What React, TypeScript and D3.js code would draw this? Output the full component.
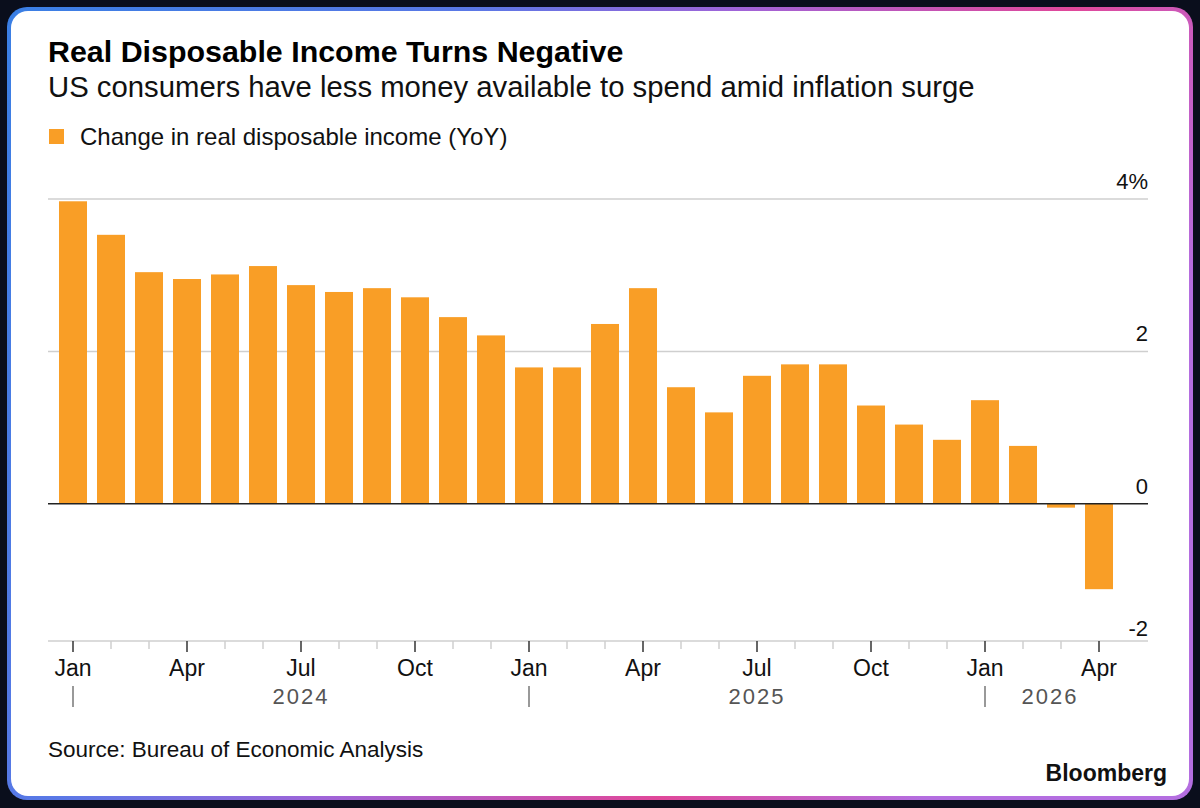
import React from 'react';
import * as d3 from 'd3';

// monthly change in real disposable income, % YoY
const months = [
  'Jan 2024', 'Feb 2024', 'Mar 2024', 'Apr 2024', 'May 2024', 'Jun 2024',
  'Jul 2024', 'Aug 2024', 'Sep 2024', 'Oct 2024', 'Nov 2024', 'Dec 2024',
  'Jan 2025', 'Feb 2025', 'Mar 2025', 'Apr 2025', 'May 2025', 'Jun 2025',
  'Jul 2025', 'Aug 2025', 'Sep 2025', 'Oct 2025', 'Nov 2025', 'Dec 2025',
  'Jan 2026', 'Feb 2026', 'Mar 2026', 'Apr 2026',
];
const values = [
  3.97, 3.53, 3.04, 2.95, 3.01, 3.12, 2.87, 2.78, 2.83, 2.71, 2.45, 2.21,
  1.79, 1.79, 2.36, 2.83, 1.53, 1.2, 1.68, 1.83, 1.83, 1.29, 1.04, 0.84,
  1.36, 0.76, -0.05, -1.12,
];
const yTicks = [4, 2, 0];
const yTickLabels = ['4%', '2', '0'];
const bottomLabel = '-2';
const labelMonths = ['Jan', 'Apr', 'Jul', 'Oct'];
const years = ['2024', '2025', '2026'];

const BAR = '#f99e26';
const FONT = '"Liberation Sans", Arial, sans-serif';

export default function App() {
  const width = 1200;
  const height = 808;
  const left = 48;
  const right = 1148;
  const top = 199;
  const bottom = 641;

  const x = d3.scaleBand<string>()
    .domain(months)
    .range([54, 1118])
    .paddingInner(0.263)
    .paddingOuter(0.1315);
  const y = d3.scaleLinear().domain([-1.8, 4]).range([bottom, top]);
  const cx = (m: string) => (x(m) ?? 0) + x.bandwidth() / 2;

  const data = months.map((m, i) => ({ m, v: values[i] }));

  // year label placement: July for full years, centre of the bars otherwise
  const yearPos = years.map((yr) => {
    const ms = months.filter((m) => m.endsWith(yr));
    const jul = ms.find((m) => m.startsWith('Jul'));
    if (jul) return cx(jul);
    return (cx(ms[0]) + cx(ms[ms.length - 1])) / 2 + 8;
  });

  return (
    <svg width={width} height={height} style={{ position: 'absolute', left: 0, top: 0 }} fontFamily={FONT}>
      <defs>
        <linearGradient id="frame" x1="0" y1="0" x2="1" y2="0.35">
          <stop offset="0" stopColor="#3a7fe4" />
          <stop offset="0.35" stopColor="#5a78e6" />
          <stop offset="0.55" stopColor="#a064d8" />
          <stop offset="0.8" stopColor="#e0489a" />
          <stop offset="1" stopColor="#b46ee0" />
        </linearGradient>
      </defs>
      <rect x={0} y={0} width={width} height={height} fill="#0a0e1c" />
      <rect x={7} y={7} width={1186} height={793} rx={20} fill="url(#frame)" />
      <rect x={11} y={11} width={1178} height={785} rx={17} fill="#ffffff" />

      <text x={left} y={62} fontSize={30.4} fontWeight="bold" fill="#000">
        Real Disposable Income Turns Negative
      </text>
      <text x={left} y={97} fontSize={29.3} fill="#111">
        US consumers have less money available to spend amid inflation surge
      </text>

      <rect x={49} y={129} width={15} height={15} fill={BAR} />
      <text x={80} y={145} fontSize={24} fill="#111">
        Change in real disposable income (YoY)
      </text>

      {/* grid */}
      {yTicks.map((t, i) => (
        <g key={t}>
          {t !== 0 && (
            <line x1={left} x2={right} y1={y(t)} y2={y(t)} stroke="#cfcfcf" strokeWidth={1.5} />
          )}
          <text x={right} y={y(t) - 10} fontSize={22} textAnchor="end" fill="#111">
            {yTickLabels[i]}
          </text>
        </g>
      ))}
      <text x={right} y={bottom - 5} fontSize={22} textAnchor="end" fill="#111">
        {bottomLabel}
      </text>

      {/* bars */}
      {data.map((d) => (
        <rect
          key={d.m}
          x={x(d.m)}
          width={x.bandwidth()}
          y={y(Math.max(0, d.v))}
          height={Math.abs(y(d.v) - y(0))}
          fill={BAR}
        />
      ))}

      <line x1={left} x2={right} y1={y(0)} y2={y(0)} stroke="#222" strokeWidth={1.5} />

      {/* x axis */}
      <line x1={left} x2={right} y1={bottom} y2={bottom} stroke="#cfcfcf" strokeWidth={1.5} />
      {months.map((m) => {
        const mon = m.slice(0, 3);
        const major = labelMonths.includes(mon);
        return (
          <g key={m}>
            <line
              x1={cx(m)} x2={cx(m)} y1={bottom} y2={bottom + (major ? 11 : 8)}
              stroke={major ? '#333' : '#cfcfcf'} strokeWidth={1.5}
            />
            {major && (
              <text x={cx(m)} y={676} fontSize={23} textAnchor="middle" fill="#111">
                {mon}
              </text>
            )}
            {mon === 'Jan' && (
              <line x1={cx(m)} x2={cx(m)} y1={686} y2={707} stroke="#777" strokeWidth={1.5} />
            )}
          </g>
        );
      })}
      {years.map((yr, i) => (
        <text key={yr} x={yearPos[i]} y={704} fontSize={22} textAnchor="middle" fill="#555" letterSpacing={2}>
          {yr}
        </text>
      ))}

      <text x={left} y={757} fontSize={22.5} fill="#111">
        Source: Bureau of Economic Analysis
      </text>
      <text x={1167} y={781} fontSize={23} fontWeight="bold" textAnchor="end" fill="#111">
        Bloomberg
      </text>
    </svg>
  );
}
